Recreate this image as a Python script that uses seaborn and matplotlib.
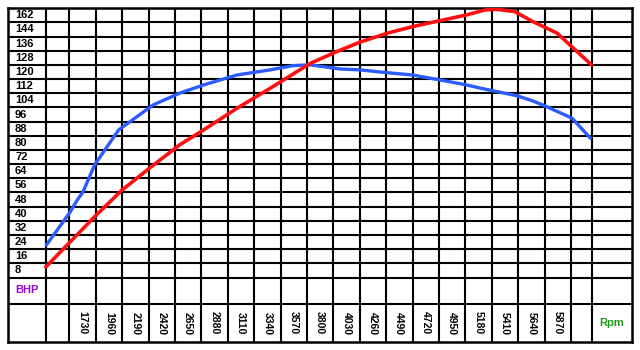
import matplotlib
matplotlib.use("Agg")
import matplotlib.pyplot as plt
import seaborn as sns
import pandas as pd

# ---- data ----
rpm_labels = [1730, 1960, 2190, 2420, 2650, 2880, 3110, 3340, 3570, 3800,
              4030, 4260, 4490, 4720, 4950, 5180, 5410, 5640, 5870]
bhp_row_tops = [152, 144, 136, 128, 120, 112, 104, 96, 88, 80, 72, 64, 56, 48, 40, 32, 24, 16, 8]
bhp_labels = ["162", "144", "136", "128", "120", "112", "104", "96", "88", "80",
              "72", "64", "56", "48", "40", "32", "24", "16", "8"]

blue_rpm = [1530, 1740, 1790, 1850, 1950, 2060, 2160, 2260, 2460, 2690, 2900, 3190,
            3480, 3680, 3830, 4090, 4260, 4500, 4720, 4960, 5190, 5310, 5450, 5630,
            5770, 5890, 6110, 6270]
blue_bhp = [18.3, 37.2, 42.8, 48.4, 63.5, 73.9, 83.3, 88.0, 97.4, 104.0, 108.7, 114.3,
            117.2, 119.6, 120.0, 117.7, 117.2, 115.6, 114.3, 111.5, 108.7, 106.9, 105.0,
            102.6, 99.6, 96.4, 89.9, 78.6]

red_rpm = [1525, 1950, 2190, 2430, 2690, 2900, 3190, 3480, 3830, 4060, 4260, 4500,
           4720, 4960, 5190, 5350, 5450, 5610, 5770, 5980, 6090, 6280]
red_bhp = [5.9, 34.3, 49.4, 61.8, 74.8, 83.3, 95.5, 106.8, 120.9, 127.5, 132.8, 137.9,
           141.6, 145.0, 148.2, 151.0, 151.4, 150.1, 144.4, 137.9, 131.3, 120.0]

# ---- figure ----
sns.set_style("white")
plt.rcParams["font.family"] = ["Liberation Sans", "DejaVu Sans"]

W, H = 640, 350
fig = plt.figure(figsize=(W / 100, H / 100), dpi=100)
ax = fig.add_axes([8 / W, 1 - 342 / H, (632 - 8) / W, (342 - 7.5) / H])

x_min, x_max = 1196, 6632
y_min, y_max = -36.4, 152.4
ax.set_xlim(x_min, x_max)
ax.set_ylim(y_min, y_max)

# grid structure (table)
col_lines = [1527] + rpm_labels + [rpm_labels[-1] + 230, 6283]
row_lines = [0] + bhp_row_tops + [-15.0]
ax.vlines(col_lines, y_min, y_max, color="black", lw=1.5, zorder=1)
ax.hlines(row_lines, x_min, x_max, color="black", lw=1.5, zorder=1)

# curves
blue_df = pd.DataFrame({"rpm": blue_rpm, "bhp": blue_bhp})
red_df = pd.DataFrame({"rpm": red_rpm, "bhp": red_bhp})
sns.lineplot(data=blue_df, x="rpm", y="bhp", ax=ax, color="#2a5cff", lw=2.4,
             sort=False, estimator=None, zorder=3)
sns.lineplot(data=red_df, x="rpm", y="bhp", ax=ax, color="#ff1010", lw=2.6,
             sort=False, estimator=None, zorder=3)

# labels
for top, lab in zip(bhp_row_tops, bhp_labels):
    ax.text(1257, top - 4, lab, ha="left", va="center", fontsize=8,
            fontweight="bold", color="black")
for r in rpm_labels:
    ax.text(r + 115, -25.7, str(r), ha="center", va="center", rotation=-90,
            fontsize=7.5, fontweight="bold", color="black")
ax.text(1257, -7.3, "BHP", ha="left", va="center", fontsize=8,
        fontweight="bold", color="#9b00d0")
ax.text(6458, -25.7, "Rpm", ha="center", va="center", fontsize=8,
        fontweight="bold", color="#1a9a1a")

ax.set_xticks([])
ax.set_yticks([])
ax.set_xlabel("")
ax.set_ylabel("")
for s in ax.spines.values():
    s.set_visible(True)
    s.set_color("black")
    s.set_linewidth(1.8)

fig.savefig("out.png", dpi=100, facecolor="white")
